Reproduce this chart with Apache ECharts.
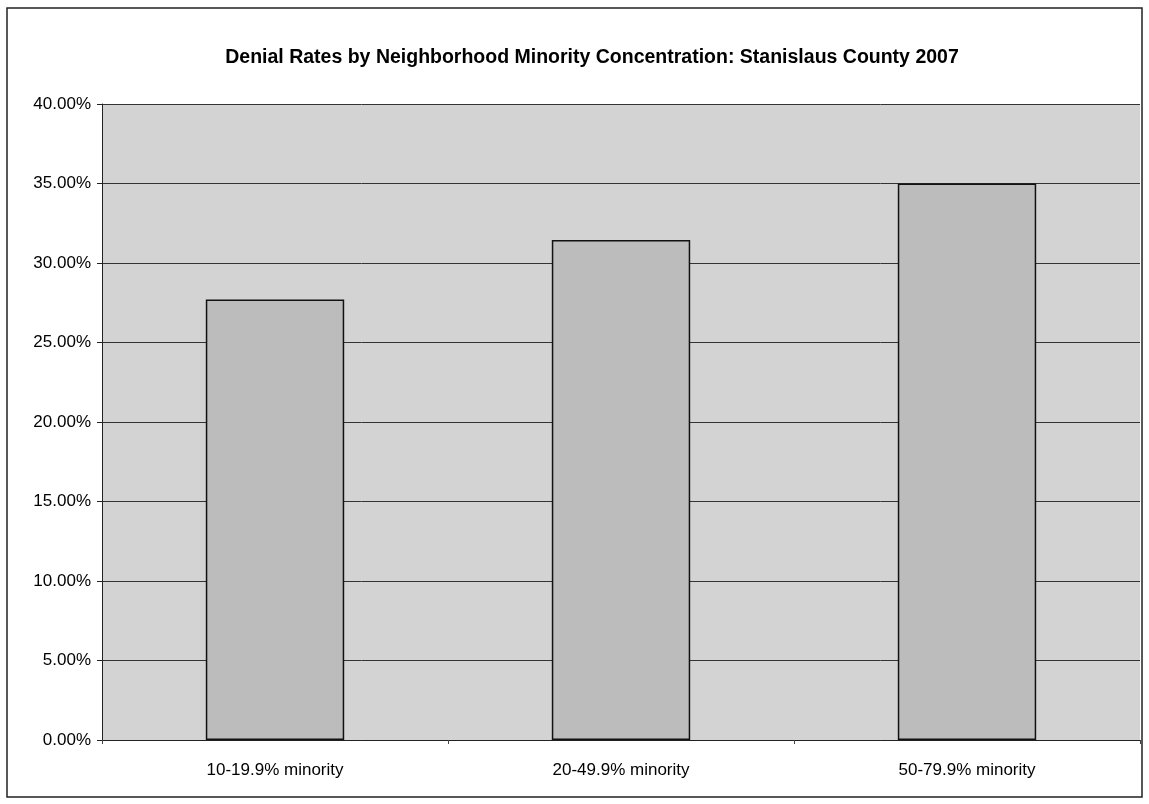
<!DOCTYPE html>
<html>
<head>
<meta charset="utf-8">
<script src="https://cdn.jsdelivr.net/npm/echarts@6/dist/echarts.min.js"></script>
<style>
  html, body { margin: 0; padding: 0; background: #fff; }
  #main { width: 1149px; height: 804px; }
</style>
</head>
<body>
<div id="main"></div>
<script>
// data
var categories = ['10-19.9% minority', '20-49.9% minority', '50-79.9% minority'];
var denialRates = [0.2770, 0.3145, 0.3500];
var yTicks = [0, 0.05, 0.10, 0.15, 0.20, 0.25, 0.30, 0.35, 0.40];

var myChart = echarts.init(document.getElementById('main'));

var option = {
    backgroundColor: '#ffffff',
    animation: false,
    title: {
        text: 'Denial Rates by Neighborhood Minority Concentration: Stanislaus County 2007',
        left: 587,
        top: 43,
        textAlign: 'center',
        textStyle: {
            fontFamily: 'Liberation Sans, Arial, sans-serif',
            fontSize: 19.5,
            fontWeight: 'bold',
            color: '#000'
        }
    },
    graphic: [{
        type: 'rect',
        shape: { x: 7, y: 8, width: 1135, height: 789 },
        style: { fill: null, stroke: '#222', lineWidth: 1.5 },
        z: 0
    }],
    grid: {
        left: 102,
        right: 9,
        top: 104,
        bottom: 64,
        show: true,
        backgroundColor: '#d3d3d3',
        borderColor: '#555',
        borderWidth: 0
    },
    xAxis: {
        type: 'category',
        data: categories,
        axisLine: { lineStyle: { color: '#222', width: 1 } },
        axisTick: { show: true, alignWithLabel: false, length: 4, lineStyle: { color: '#444' } },
        axisLabel: {
            margin: 22,
            fontFamily: 'Liberation Sans, Arial, sans-serif',
            fontSize: 17,
            color: '#000'
        }
    },
    yAxis: {
        type: 'value',
        min: 0,
        max: 0.40,
        interval: 0.05,
        axisLine: { show: true, lineStyle: { color: '#222', width: 1 } },
        axisTick: { show: true, length: 5, lineStyle: { color: '#222' } },
        axisLabel: {
            margin: 11,
            fontFamily: 'Liberation Sans, Arial, sans-serif',
            fontSize: 17,
            color: '#000',
            formatter: function (v) { return (v * 100).toFixed(2) + '%'; }
        },
        splitLine: { show: true, lineStyle: { color: '#333', width: 1 } }
    },
    series: [{
        name: 'Denial rate',
        type: 'bar',
        data: denialRates,
        barWidth: '40%',
        itemStyle: {
            color: '#bcbcbc',
            borderColor: '#111',
            borderWidth: 1.5
        }
    }]
};

myChart.setOption(option);
</script>
</body>
</html>
